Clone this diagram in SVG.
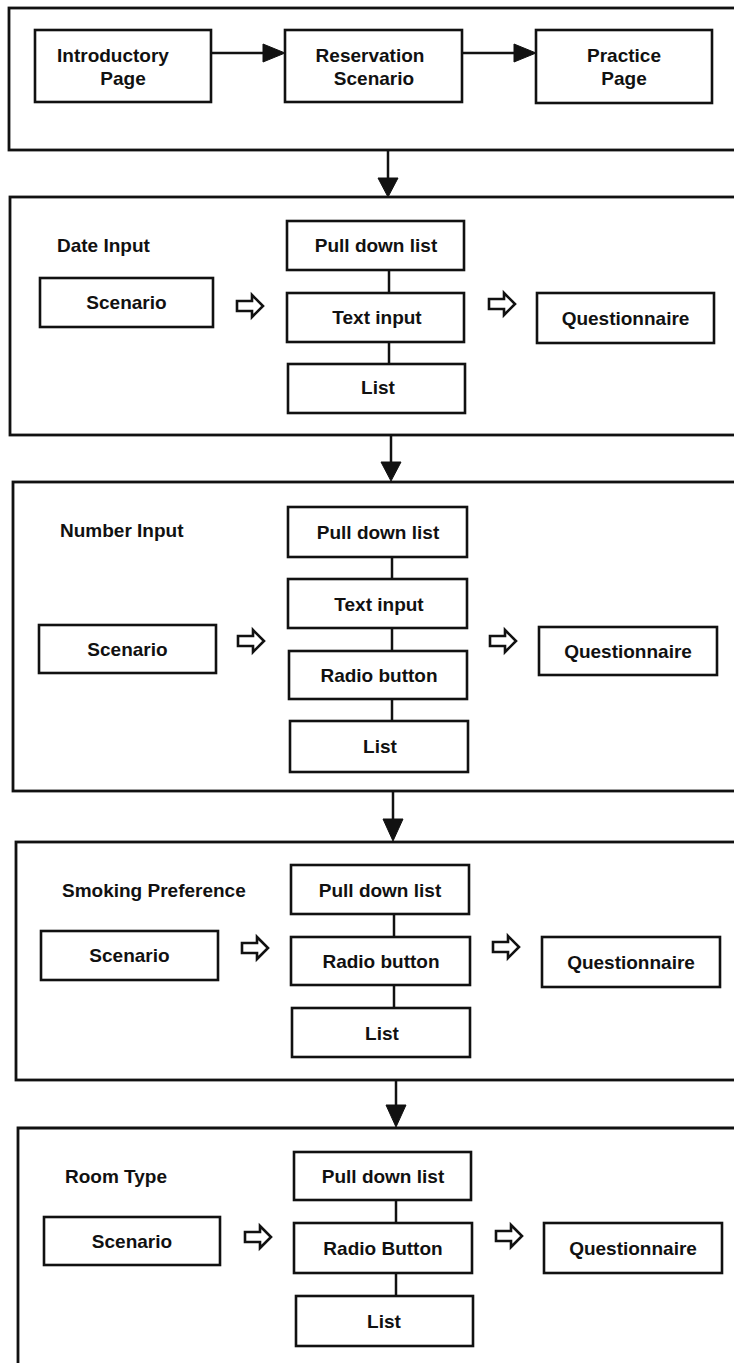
<svg xmlns="http://www.w3.org/2000/svg" xmlns:xlink="http://www.w3.org/1999/xlink" width="734" height="1363" viewBox="0 0 734 1363">
<style>
  .sec { fill: none; stroke: #111; stroke-width: 2.8; }
  .box { fill: #fff; stroke: #111; stroke-width: 2.6; }
  .t { font-family: "Liberation Sans", Arial, sans-serif; font-weight: bold; font-size: 19px; fill: #111; text-anchor: middle; }
  .lbl { font-family: "Liberation Sans", Arial, sans-serif; font-weight: bold; font-size: 19px; fill: #111; text-anchor: start; }
  .ln { stroke: #111; stroke-width: 2.5; fill: none; }
  .head { fill: #111; stroke: #111; stroke-width: 1; }
  .hollow { fill: #fff; stroke: #111; stroke-width: 2.6; stroke-linejoin: miter; }
</style>
<defs>
  <path id="hol" d="M0,-5 H15 V-11 L26,0 L15,11 V5 H0 Z"/>
</defs>
<rect x="0" y="0" width="734" height="1363" fill="#fff"/>

<!-- Section frames -->
<g id="section1">
  <rect class="sec" x="9" y="8" width="740" height="142"/>
</g>
<g id="section2">
  <rect class="sec" x="10" y="197" width="740" height="238"/>
  <text class="lbl" x="57" y="252">Date Input</text>
</g>
<g id="section3">
  <rect class="sec" x="13" y="482" width="740" height="309"/>
  <text class="lbl" x="60" y="537">Number Input</text>
</g>
<g id="section4">
  <rect class="sec" x="16" y="842" width="740" height="238"/>
  <text class="lbl" x="62" y="897">Smoking Preference</text>
</g>
<g id="section5">
  <path class="sec" d="M18,1370 V1128 H750"/>
  <text class="lbl" x="65" y="1183">Room Type</text>
</g>

<!-- Connectors -->
<g id="connectors">
  <line class="ln" x1="211" y1="53" x2="265" y2="53"/>
  <polygon class="head" points="263,44 285,53 263,62"/>
  <line class="ln" x1="462" y1="53" x2="516" y2="53"/>
  <polygon class="head" points="514,44 536,53 514,62"/>
  <line class="ln" x1="388" y1="150" x2="388" y2="180"/>
  <polygon class="head" points="378,178 398,178 388,197"/>
  <line class="ln" x1="391" y1="435" x2="391" y2="464"/>
  <polygon class="head" points="381,462 401,462 391,481"/>
  <line class="ln" x1="393" y1="791" x2="393" y2="821"/>
  <polygon class="head" points="383,819 403,819 393,841"/>
  <line class="ln" x1="396" y1="1080" x2="396" y2="1107"/>
  <polygon class="head" points="386,1105 406,1105 396,1127"/>
  <line class="ln" x1="389" y1="270" x2="389" y2="293"/>
  <line class="ln" x1="389" y1="342" x2="389" y2="364"/>
  <line class="ln" x1="392" y1="557" x2="392" y2="579"/>
  <line class="ln" x1="392" y1="628" x2="392" y2="651"/>
  <line class="ln" x1="392" y1="699" x2="392" y2="721"/>
  <line class="ln" x1="394" y1="914" x2="394" y2="937"/>
  <line class="ln" x1="394" y1="985" x2="394" y2="1008"/>
  <line class="ln" x1="396" y1="1200" x2="396" y2="1223"/>
  <line class="ln" x1="396" y1="1273" x2="396" y2="1296"/>
  <use class="hollow" xlink:href="#hol" href="#hol" x="237" y="306"/>
  <use class="hollow" xlink:href="#hol" href="#hol" x="489" y="304"/>
  <use class="hollow" xlink:href="#hol" href="#hol" x="238" y="641"/>
  <use class="hollow" xlink:href="#hol" href="#hol" x="490" y="641"/>
  <use class="hollow" xlink:href="#hol" href="#hol" x="242" y="948"/>
  <use class="hollow" xlink:href="#hol" href="#hol" x="493" y="947"/>
  <use class="hollow" xlink:href="#hol" href="#hol" x="245" y="1237"/>
  <use class="hollow" xlink:href="#hol" href="#hol" x="496" y="1236"/>
</g>

<!-- Top row nodes -->
<g id="n-intro">
  <rect class="box" x="35" y="30" width="176" height="72"/>
  <text class="t" x="113" y="62">Introductory</text>
  <text class="t" x="123" y="85">Page</text>
</g>
<g id="n-reservation">
  <rect class="box" x="285" y="30" width="177" height="72"/>
  <text class="t" x="370" y="62">Reservation</text>
  <text class="t" x="374" y="85">Scenario</text>
</g>
<g id="n-practice">
  <rect class="box" x="536" y="30" width="176" height="73"/>
  <text class="t" x="624" y="62">Practice</text>
  <text class="t" x="624" y="85">Page</text>
</g>

<!-- Section 2 nodes -->
<g id="s2-scenario">
  <rect class="box" x="40" y="278" width="173" height="49"/>
  <text class="t" x="126.5" y="309">Scenario</text>
</g>
<g id="s2-pulldown">
  <rect class="box" x="287" y="221" width="177" height="49"/>
  <text class="t" x="376" y="252">Pull down list</text>
</g>
<g id="s2-textinput">
  <rect class="box" x="287" y="293" width="177" height="49"/>
  <text class="t" x="377" y="324">Text input</text>
</g>
<g id="s2-list">
  <rect class="box" x="288" y="364" width="177" height="49"/>
  <text class="t" x="378" y="394">List</text>
</g>
<g id="s2-questionnaire">
  <rect class="box" x="537" y="293" width="177" height="50"/>
  <text class="t" x="625.5" y="325">Questionnaire</text>
</g>

<!-- Section 3 nodes -->
<g id="s3-scenario">
  <rect class="box" x="39" y="625" width="177" height="48"/>
  <text class="t" x="127.5" y="656">Scenario</text>
</g>
<g id="s3-pulldown">
  <rect class="box" x="288" y="507" width="179" height="50"/>
  <text class="t" x="378" y="539">Pull down list</text>
</g>
<g id="s3-textinput">
  <rect class="box" x="288" y="579" width="179" height="49"/>
  <text class="t" x="379" y="611">Text input</text>
</g>
<g id="s3-radio">
  <rect class="box" x="289" y="651" width="178" height="48"/>
  <text class="t" x="379" y="682">Radio button</text>
</g>
<g id="s3-list">
  <rect class="box" x="290" y="721" width="178" height="51"/>
  <text class="t" x="380" y="753">List</text>
</g>
<g id="s3-questionnaire">
  <rect class="box" x="539" y="627" width="178" height="48"/>
  <text class="t" x="628" y="658">Questionnaire</text>
</g>

<!-- Section 4 nodes -->
<g id="s4-scenario">
  <rect class="box" x="41" y="931" width="177" height="49"/>
  <text class="t" x="129.5" y="962">Scenario</text>
</g>
<g id="s4-pulldown">
  <rect class="box" x="291" y="865" width="178" height="49"/>
  <text class="t" x="380" y="897">Pull down list</text>
</g>
<g id="s4-radio">
  <rect class="box" x="291" y="937" width="179" height="48"/>
  <text class="t" x="381" y="968">Radio button</text>
</g>
<g id="s4-list">
  <rect class="box" x="292" y="1008" width="178" height="49"/>
  <text class="t" x="382" y="1040">List</text>
</g>
<g id="s4-questionnaire">
  <rect class="box" x="542" y="937" width="178" height="50"/>
  <text class="t" x="631" y="969">Questionnaire</text>
</g>

<!-- Section 5 nodes -->
<g id="s5-scenario">
  <rect class="box" x="44" y="1217" width="176" height="48"/>
  <text class="t" x="132" y="1248">Scenario</text>
</g>
<g id="s5-pulldown">
  <rect class="box" x="294" y="1152" width="177" height="48"/>
  <text class="t" x="383" y="1183">Pull down list</text>
</g>
<g id="s5-radio">
  <rect class="box" x="294" y="1223" width="178" height="50"/>
  <text class="t" x="383" y="1255">Radio Button</text>
</g>
<g id="s5-list">
  <rect class="box" x="296" y="1296" width="177" height="50"/>
  <text class="t" x="384" y="1328">List</text>
</g>
<g id="s5-questionnaire">
  <rect class="box" x="544" y="1223" width="178" height="50"/>
  <text class="t" x="633" y="1255">Questionnaire</text>
</g>
</svg>
